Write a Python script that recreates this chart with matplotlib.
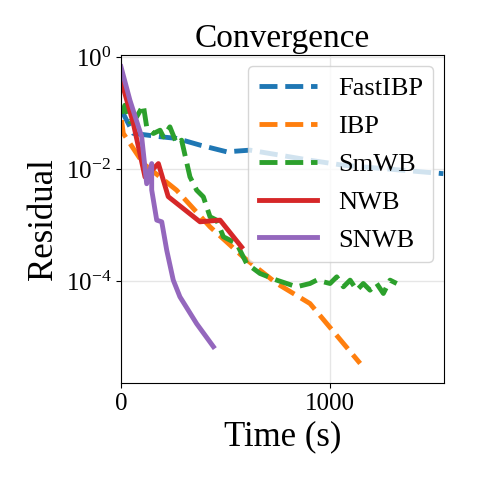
import matplotlib
matplotlib.use("Agg")
import matplotlib.pyplot as plt
import numpy as np

# == DATA ==
fastibp_t = [3, 59, 187, 266, 378, 506, 617, 904, 1064, 1542]
fastibp_log = [-0.95, -1.36, -1.42, -1.45, -1.57, -1.69, -1.66, -1.84, -1.93, -2.08]

ibp_t = [3, 11, 107, 266, 426, 585, 745, 904, 1144]
ibp_log = [-1.125, -1.36, -1.90, -2.375, -3.03, -3.57, -4.04, -4.4, -5.47]

smwb_t = [3, 19, 43, 75, 107, 123, 155, 187, 203, 234, 266, 290, 330, 362, 394,
          426, 458, 490, 553, 601, 665, 745, 840, 904, 936, 1000, 1032, 1064,
          1096, 1128, 1159, 1191, 1223, 1255, 1287, 1319]
smwb_log = [-1.006, -0.857, -1.155, -1.065, -0.857, -1.244, -1.363, -1.304, -1.423,
            -1.244, -1.542, -1.482, -2.137, -2.375, -2.494, -2.851, -2.911, -3.208,
            -3.327, -3.685, -3.863, -3.982, -4.101, -4.042, -3.982, -4.042, -3.923,
            -4.101, -3.982, -4.161, -4.042, -4.161, -4.042, -4.22, -3.982, -4.042]

nwb_t = [3, 59, 115, 179, 226, 378, 474, 577]
nwb_log = [-0.44, -1.18, -2.14, -1.90, -2.49, -2.94, -2.91, -3.39]

snwb_t = [0, 43, 99, 123, 147, 147, 171, 195, 219, 250, 282, 362, 442]
snwb_log = [-0.17, -0.77, -1.42, -2.26, -1.90, -2.37, -2.91, -2.94, -3.45, -3.98,
            -4.28, -4.76, -5.17]

# == PLOT ==
plt.rcParams['font.family'] = ['Liberation Serif', 'DejaVu Serif']
plt.rcParams['mathtext.fontset'] = 'stix'

fig = plt.figure(figsize=(4.8, 4.8), dpi=100)
ax = fig.add_axes([0.252, 0.202, 0.673, 0.683])

lw = 3.5
ax.plot(fastibp_t, 10 ** np.array(fastibp_log), '--', color='#1f77b4', lw=lw, label='FastIBP')
ax.plot(ibp_t, 10 ** np.array(ibp_log), '--', color='#ff7f0e', lw=lw, label='IBP')
ax.plot(smwb_t, 10 ** np.array(smwb_log), '--', color='#2ca02c', lw=lw, label='SmWB')
ax.plot(nwb_t, 10 ** np.array(nwb_log), '-', color='#d62728', lw=lw, label='NWB')
ax.plot(snwb_t, 10 ** np.array(snwb_log), '-', color='#9467bd', lw=lw, label='SNWB')

ax.set_yscale('log')
ax.set_xlim(0, 1545)
ax.set_ylim(10 ** -5.82, 10 ** 0.036)
ax.set_yticks([1, 1e-2, 1e-4])
ax.minorticks_off()
ax.set_xticks([0, 1000])
ax.grid(True, color='#e6e6e6', lw=1)
ax.tick_params(labelsize=18)

ax.set_title('Convergence', fontsize=24)
ax.set_xlabel('Time (s)', fontsize=25)
ax.set_ylabel('Residual', fontsize=25)
ax.legend(loc='upper right', fontsize=19, handlelength=2.2, borderaxespad=0.4,
          labelspacing=0.55)

fig.savefig('out.png', dpi=100)
